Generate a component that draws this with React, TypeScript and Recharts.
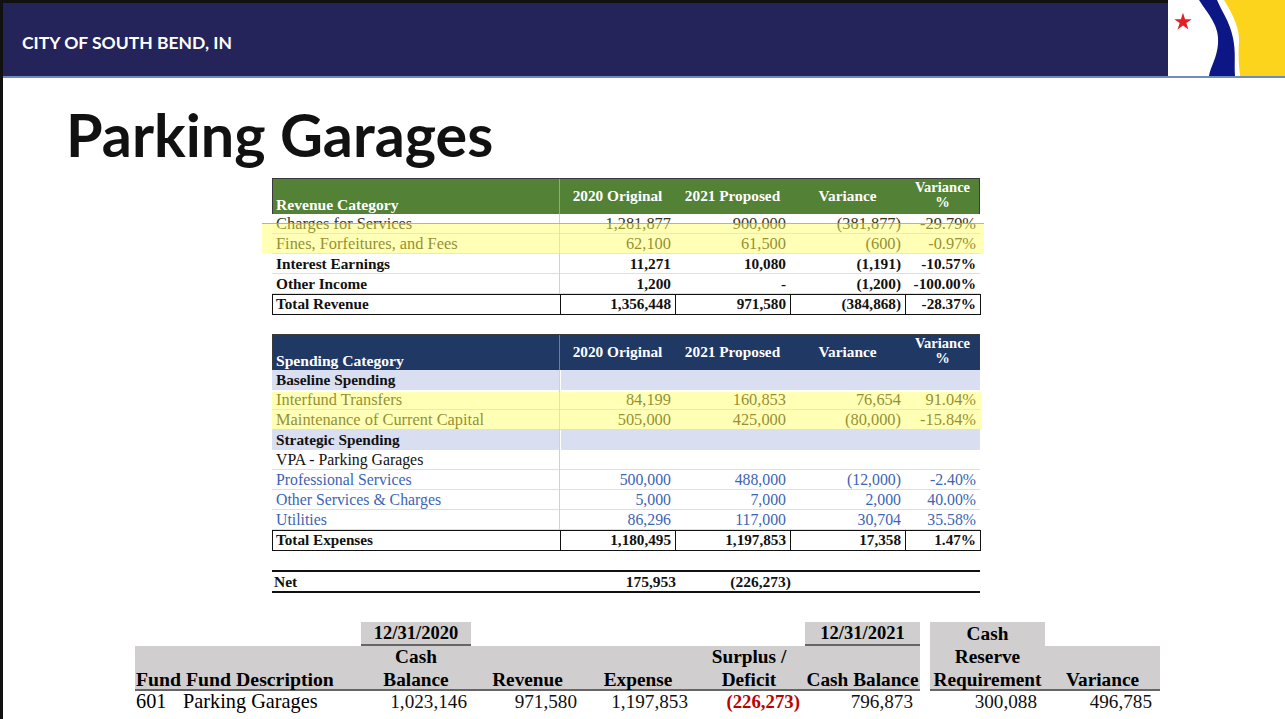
import React from 'react'
import { Surface, Symbols } from 'recharts'

// Revenue table
const revenueCategories = ['Charges for Services', 'Fines, Forfeitures, and Fees', 'Interest Earnings', 'Other Income']
const revenue2020 = [1281877, 62100, 11271, 1200]
const revenue2021 = [900000, 61500, 10080, 0]
const revenueVariance = [-381877, -600, -1191, -1200]
const revenueVariancePct = [-29.79, -0.97, -10.57, -100.0]
const revenueTotals = [1356448, 971580, -384868, -28.37]

// Spending table
const spendingCategories = [
    'Baseline Spending',
    'Interfund Transfers',
    'Maintenance of Current Capital',
    'Strategic Spending',
    'VPA - Parking Garages',
    'Professional Services',
    'Other Services & Charges',
    'Utilities'
]
const spendingKinds = ['group', 'hl', 'hl', 'group', 'sub', 'blue', 'blue', 'blue']
const spending2020 = [null, 84199, 505000, null, null, 500000, 5000, 86296]
const spending2021 = [null, 160853, 425000, null, null, 488000, 7000, 117000]
const spendingVariance = [null, 76654, -80000, null, null, -12000, 2000, 30704]
const spendingVariancePct = [null, 91.04, -15.84, null, null, -2.4, 40.0, 35.58]
const spendingTotals = [1180495, 1197853, 17358, 1.47]

const netValues = [175953, -226273]

// Fund balance table
const fundHeaders = ['Cash\nBalance', 'Revenue', 'Expense', 'Surplus /\nDeficit', 'Cash Balance', 'Cash\nReserve\nRequirement', 'Variance']
const fundRow = { fund: '601', description: 'Parking Garages', values: [1023146, 971580, 1197853, -226273, 796873, 300088, 496785] }

const SERIF = '"Liberation Serif", "DejaVu Serif", serif'
const COLS = [272, 560, 675, 790, 905, 980]

const fmt = (n: number | null) => {
    if (n === null) return ''
    if (n === 0) return '-'
    const s = Math.abs(n).toLocaleString('en-US')
    return n < 0 ? `(${s})` : s
}
const pct = (n: number | null) => (n === null ? '' : `${n.toFixed(2)}%`)

const Box = ({ style, children }: { style: React.CSSProperties; children?: React.ReactNode }) => (
    <div style={{ position: 'absolute', boxSizing: 'border-box', whiteSpace: 'pre', ...style }}>{children}</div>
)

function TableHeader({ top, label, bg }: { top: number; label: string; bg: string }) {
    const h = 36
    return (
        <>
            <Box style={{ left: 272, top, width: 708, height: h, background: bg, border: '1px solid #3a3a3a', borderBottom: 'none' }} />
            <Box style={{ left: 559, top: top + 1, width: 1, height: h - 1, background: 'rgba(255,255,255,0.35)' }} />
            <Box style={{ left: 276, top: top + 18, height: 18, lineHeight: '18px', color: '#fff', fontWeight: 700, fontSize: 15.6 }}>{label}</Box>
            {['2020 Original', '2021 Proposed', 'Variance'].map((t, i) => (
                <Box key={t} style={{ left: COLS[i + 1], top, width: COLS[i + 2] - COLS[i + 1], height: h, lineHeight: `${h}px`, textAlign: 'center', color: '#fff', fontWeight: 700, fontSize: 15.3 }}>{t}</Box>
            ))}
            <Box style={{ left: 905, top: top + 2, width: 75, lineHeight: '15px', textAlign: 'center', color: '#fff', fontWeight: 700, fontSize: 14.5 }}>{'Variance\n%'}</Box>
        </>
    )
}

function DataRow({ top, cells, color, weight, size, bg, line = '#d9dfee' }: { top: number; cells: string[]; color: string; weight: number; size: number; bg?: string; line?: string }) {
    return (
        <>
            {bg && <Box style={{ left: 272, top, width: 708, height: 20, background: bg }} />}
            {bg && <Box style={{ left: 559, top, width: 2, height: 20, background: '#fff' }} />}
            <Box style={{ left: 272, top: top + 19, width: 708, height: 1, background: line }} />
            <Box style={{ left: 559, top, width: 1, height: 20, background: '#c9d1e6' }} />
            <Box style={{ left: 276, top, height: 20, lineHeight: '20px', color, fontWeight: weight, fontSize: size }}>{cells[0]}</Box>
            {cells.slice(1).map((c, i) => (
                <Box key={i} style={{ left: COLS[i + 1], top, width: COLS[i + 2] - COLS[i + 1] - 4, height: 20, lineHeight: '20px', textAlign: 'right', color, fontWeight: weight, fontSize: size }}>{c}</Box>
            ))}
        </>
    )
}

function TotalRow({ top, label, values }: { top: number; label: string; values: number[] }) {
    const cells = [label, fmt(values[0]), fmt(values[1]), fmt(values[2]), pct(values[3])]
    return (
        <>
            {cells.map((c, i) => (
                <Box key={i} style={{ left: COLS[i], top, width: COLS[i + 1] - COLS[i] + 1, height: 21, border: '1.5px solid #111', lineHeight: '18px', paddingLeft: i === 0 ? 3 : 0, paddingRight: i === 0 ? 0 : 4, textAlign: i === 0 ? 'left' : 'right', fontWeight: 700, fontSize: 15.2, color: '#111' }}>{c}</Box>
            ))}
        </>
    )
}

function Logo() {
    return (
        <Surface width={117} height={76} viewBox={{ x: 0, y: 0, width: 117, height: 76 }}>
            <rect x={0} y={0} width={117} height={76} fill="#ffffff" />
            <path d="M56,0 C62,10 72,26 71,42 C70,56 71,66 72,76 L117,76 L117,0 Z" fill="#fcd41c" />
            <path d="M31,0 C40,14 52,26 50,44 C49,58 42,68 41,76 L67,76 C66,64 68,52 65,38 C62,22 53,10 49,0 Z" fill="#0c1684" />
            <Symbols cx={15} cy={22} type="star" size={95} fill="#e41e26" />
        </Surface>
    )
}

export default function App() {
    const revTop = 214
    const spTop = 370
    return (
        <div style={{ position: 'absolute', left: 0, top: 0, width: 1285, height: 719, background: '#fff', overflow: 'hidden', fontFamily: SERIF }}>
            {/* frame + header band */}
            <Box style={{ left: 0, top: 0, width: 1285, height: 3, background: '#111' }} />
            <Box style={{ left: 0, top: 0, width: 3, height: 719, background: '#111' }} />
            <Box style={{ left: 3, top: 3, width: 1165, height: 73, background: '#24235a' }} />
            <Box style={{ left: 3, top: 76, width: 1282, height: 2, background: '#6f8cc2' }} />
            <Box style={{ left: 22, top: 30, lineHeight: '26px', color: '#fff', fontFamily: 'Lato, sans-serif', fontWeight: 700, fontSize: 17.5 }}>CITY OF SOUTH BEND, IN</Box>
            <div style={{ position: 'absolute', left: 1168, top: 0 }}>
                <Logo />
            </div>
            <Box style={{ left: 66, top: 96, lineHeight: '76px', color: '#111', fontFamily: 'Lato, sans-serif', fontWeight: 700, fontSize: 59.3 }}>Parking Garages</Box>

            {/* Revenue table */}
            <TableHeader top={178} label="Revenue Category" bg="#538135" />
            {revenueCategories.map((c, i) => {
                const hl = i < 2
                return (
                    <DataRow
                        key={c}
                        top={revTop + i * 20}
                        cells={[c, fmt(revenue2020[i]), fmt(revenue2021[i]), fmt(revenueVariance[i]), pct(revenueVariancePct[i])]}
                        color={hl ? '#3a3414' : '#111'}
                        weight={hl ? 400 : 700}
                        size={hl ? 16.4 : 15.3}
                    />
                )
            })}
            <TotalRow top={294} label="Total Revenue" values={revenueTotals} />
            <Box style={{ left: 262, top: 223, width: 722, height: 31, background: 'rgba(255,255,90,0.45)', borderTop: '1px solid rgba(170,160,40,0.7)' }} />

            {/* Spending table */}
            <TableHeader top={334} label="Spending Category" bg="#203864" />
            {spendingCategories.map((c, i) => {
                const kind = spendingKinds[i]
                const color = kind === 'blue' ? '#3c64b4' : kind === 'hl' ? '#3a3414' : '#111'
                const weight = kind === 'group' ? 700 : 400
                const size = kind === 'hl' ? 16.4 : kind === 'group' ? 15.3 : 15.8
                return (
                    <DataRow
                        key={c}
                        top={spTop + i * 20}
                        cells={[c, fmt(spending2020[i]), fmt(spending2021[i]), fmt(spendingVariance[i]), pct(spendingVariancePct[i])]}
                        color={color}
                        weight={weight}
                        size={size}
                        bg={kind === 'group' ? '#d9dff0' : undefined}
                        line={kind === 'group' ? 'transparent' : '#d9dfee'}
                    />
                )
            })}
            <TotalRow top={530} label="Total Expenses" values={spendingTotals} />
            <Box style={{ left: 272, top: 392, width: 710, height: 37, background: 'rgba(255,255,90,0.45)' }} />

            {/* Net */}
            <Box style={{ left: 272, top: 570, width: 708, height: 2, background: '#111' }} />
            <Box style={{ left: 272, top: 591, width: 708, height: 2, background: '#111' }} />
            <Box style={{ left: 274, top: 572, lineHeight: '19px', fontWeight: 700, fontSize: 15.5, color: '#111' }}>Net</Box>
            {netValues.map((v, i) => (
                <Box key={i} style={{ left: COLS[i + 1], top: 572, width: COLS[i + 2] - COLS[i + 1] + 1, lineHeight: '19px', textAlign: 'right', fontWeight: 700, fontSize: 15.5, color: '#111' }}>{fmt(v)}</Box>
            ))}

            {/* Fund balance table */}
            <Box style={{ left: 361, top: 622, width: 110, height: 24, background: '#d0cece', borderBottom: '2px solid #666', textAlign: 'center', lineHeight: '23px', fontWeight: 700, fontSize: 18.5 }}>12/31/2020</Box>
            <Box style={{ left: 805, top: 622, width: 115, height: 24, background: '#d0cece', borderBottom: '2px solid #666', textAlign: 'center', lineHeight: '23px', fontWeight: 700, fontSize: 18.5 }}>12/31/2021</Box>
            <Box style={{ left: 930, top: 622, width: 115, height: 24, background: '#d0cece' }} />
            <Box style={{ left: 135, top: 646, width: 785, height: 45, background: '#d0cece', borderBottom: '2px solid #666' }} />
            <Box style={{ left: 930, top: 646, width: 230, height: 45, background: '#d0cece', borderBottom: '2px solid #666' }} />
            <Box style={{ left: 136, top: 668, lineHeight: '23px', fontWeight: 700, fontSize: 19.8 }}>Fund Fund Description</Box>
            {fundHeaders.map((h, i) => {
                const bounds = [[361, 471], [472, 583], [583, 693], [693, 805], [805, 920], [930, 1045], [1045, 1160]][i]
                const lines = h.split('\n').length
                return (
                    <Box key={i} style={{ left: bounds[0], top: 691 - lines * 23, width: bounds[1] - bounds[0], lineHeight: '23px', textAlign: 'center', fontWeight: 700, fontSize: 19.3 }}>{h}</Box>
                )
            })}
            <Box style={{ left: 136, top: 690, lineHeight: '23px', fontSize: 20.3 }}>{fundRow.fund}</Box>
            <Box style={{ left: 183, top: 690, lineHeight: '23px', fontSize: 20.3 }}>{fundRow.description}</Box>
            {fundRow.values.map((v, i) => {
                const rights = [467, 577, 688, 800, 913, 1037, 1152]
                return (
                    <Box key={i} style={{ left: rights[i] - 120, top: 690, width: 120, lineHeight: '23px', textAlign: 'right', fontSize: v < 0 ? 18.8 : 19.2, fontWeight: v < 0 ? 700 : 400, color: v < 0 ? '#c00000' : '#111' }}>{fmt(v)}</Box>
                )
            })}
        </div>
    )
}
